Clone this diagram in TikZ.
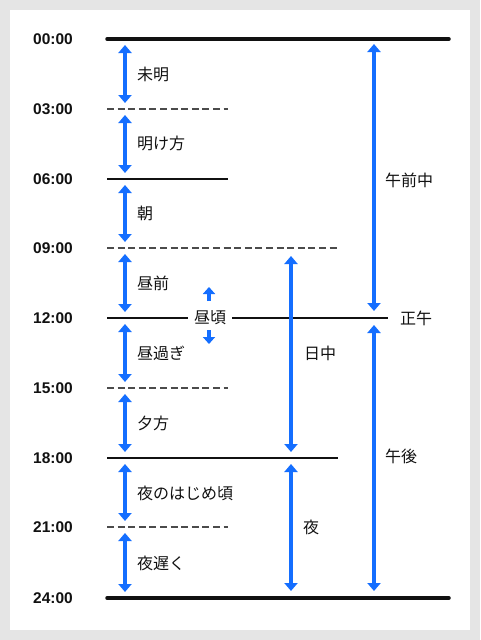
\documentclass[tikz,border=0pt]{standalone}
\usepackage{fontspec}
\newfontfamily\jpfont{Noto Sans CJK JP}
\newfontfamily\numfont{Liberation Sans}
\usetikzlibrary{arrows.meta, positioning, calc}
\definecolor{spanblue}{RGB}{20, 110, 255}
\definecolor{dashgray}{RGB}{75, 75, 75}
\definecolor{inkblack}{RGB}{17, 17, 17}
\definecolor{panelgray}{RGB}{229, 229, 229}

\begin{document}
\begin{tikzpicture}[x=1pt, y=-1pt,
  hour/.style={font=\numfont\bfseries\fontsize{15.5}{16}\selectfont, text=inkblack, inner sep=0pt},
  period/.style={font=\jpfont\fontsize{16}{16}\selectfont, text=inkblack, anchor=west, inner sep=0pt},
  bound/.style={inkblack, line width=3.5pt, line cap=round},
  solidline/.style={inkblack, line width=1.8pt},
  dashline/.style={dashgray, line width=1.8pt, dash pattern=on 7pt off 3.6pt},
  span/.style={{Triangle[width=13pt,length=8pt]}-{Triangle[width=13pt,length=8pt]}, spanblue, line width=3.5pt},
  nudge/.style={-{Triangle[width=12pt,length=7pt]}, spanblue, line width=3.5pt}
]
  % page and panel
  \fill[panelgray] (0,0) rectangle (480,640);
  \fill[white] (10,10) rectangle (470,630);
  \useasboundingbox (0,0) rectangle (480,640);

  % hour labels
  \node[hour] (t00) at (53,39) {00:00};
  \node[hour] (t03) at (53,109) {03:00};
  \node[hour] (t06) at (53,179) {06:00};
  \node[hour] (t09) at (53,248) {09:00};
  \node[hour] (t12) at (53,318) {12:00};
  \node[hour] (t15) at (53,388) {15:00};
  \node[hour] (t18) at (53,458) {18:00};
  \node[hour] (t21) at (53,527) {21:00};
  \node[hour] (t24) at (53,598) {24:00};

  % line starts
  \coordinate (h00) at (107,39);
  \coordinate (h03) at (107,109);
  \coordinate (h06) at (107,179);
  \coordinate (h09) at (107,248);
  \coordinate (h12) at (107,318);
  \coordinate (h15) at (107,388);
  \coordinate (h18) at (107,458);
  \coordinate (h21) at (107,527);
  \coordinate (h24) at (107,598);

  % hour lines
  \draw[bound] (h00) -- ++(342,0);
  \draw[dashline] (h03) -- ++(121,0);
  \draw[solidline] (h06) -- ++(121,0);
  \draw[dashline] (h09) -- ++(231,0);
  \draw[dashline] (h15) -- ++(121,0);
  \draw[solidline] (h18) -- ++(231,0);
  \draw[dashline] (h21) -- ++(121,0);
  \draw[bound] (h24) -- ++(342,0);

  % noon line with its label
  \node[period, anchor=center, inner xsep=6pt, inner ysep=2pt] (midday) at (210,318) {昼頃};
  \coordinate (e12) at (388,318);
  \draw[solidline] (h12) -- (midday.west);
  \draw[solidline] (midday.east) -- (e12);
  \draw[nudge] ($(midday)+(-1,-17)$) -- ($(midday)+(-1,-31)$);
  \draw[nudge] ($(midday)+(-1,12)$) -- ($(midday)+(-1,26)$);
  \node[period] (noon) at (400,318) {正午};

  % three-hour spans
  \draw[span] ($(h00)+(18,6)$) -- ($(h03)+(18,-6)$);
  \draw[span] ($(h03)+(18,6)$) -- ($(h06)+(18,-6)$);
  \draw[span] ($(h06)+(18,6)$) -- ($(h09)+(18,-6)$);
  \draw[span] ($(h09)+(18,6)$) -- ($(h12)+(18,-6)$);
  \draw[span] ($(h12)+(18,6)$) -- ($(h15)+(18,-6)$);
  \draw[span] ($(h15)+(18,6)$) -- ($(h18)+(18,-6)$);
  \draw[span] ($(h18)+(18,6)$) -- ($(h21)+(18,-6)$);
  \draw[span] ($(h21)+(18,6)$) -- ($(h24)+(18,-6)$);

  \node[period] (mimei) at (137,74) {未明};
  \node[period] (akegata) at (137,143) {明け方};
  \node[period] (asa) at (137,213) {朝};
  \node[period] (hirumae) at (137,283) {昼前};
  \node[period] (hirusugi) at (137,353) {昼過ぎ};
  \node[period] (yuugata) at (137,423) {夕方};
  \node[period] (yoihajime) at (137,493) {夜のはじめ頃};
  \node[period] (yoruosoku) at (137,563) {夜遅く};

  % day and night
  \draw[span] ($(h09)+(184,8)$) -- ($(h18)+(184,-6)$);
  \draw[span] ($(h18)+(184,6)$) -- ($(h24)+(184,-7)$);
  \node[period] (nitchuu) at (304,353) {日中};
  \node[period] (yoru) at (303,527) {夜};

  % morning and afternoon
  \draw[span] ($(h00)+(267,5)$) -- ($(h12)+(267,-7)$);
  \draw[span] ($(h12)+(267,7)$) -- ($(h24)+(267,-7)$);
  \node[period] (gozen) at (385,180) {午前中};
  \node[period] (gogo) at (385,456) {午後};
\end{tikzpicture}
\end{document}
